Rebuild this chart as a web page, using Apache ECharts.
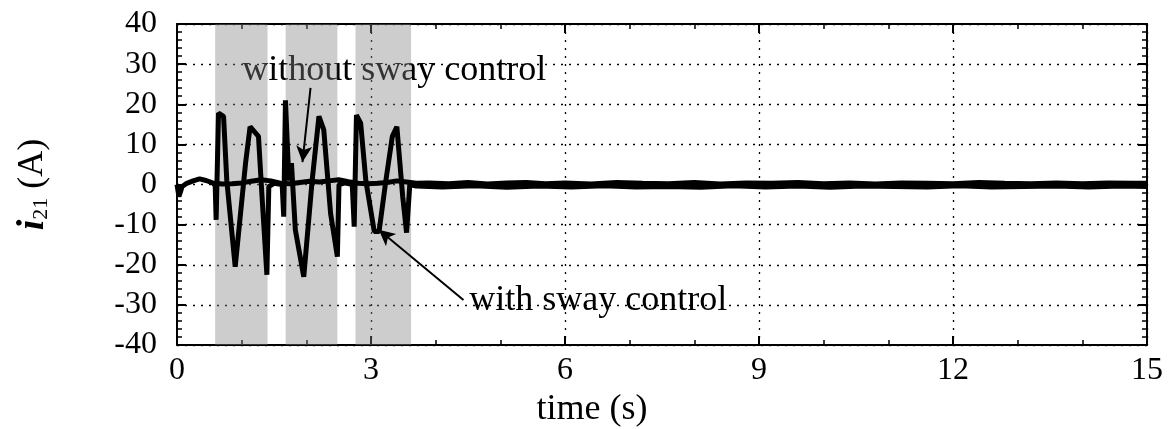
<!DOCTYPE html>
<html>
<head>
<meta charset="utf-8">
<script src="https://cdn.jsdelivr.net/npm/echarts@6/dist/echarts.min.js"></script>
<style>
  html, body { margin: 0; padding: 0; background: #fff; }
  #main { width: 1172px; height: 429px; }
</style>
</head>
<body>
<div id="main"></div>
<script>
// current i21 (A) vs time (s)
var ctrlTime = [0.55, 0.59, 0.605, 0.625, 0.642, 0.72, 0.77, 0.90, 1.06, 1.13, 1.26, 1.315, 1.39, 1.42, 1.5,
  1.626, 1.65, 1.677, 1.73, 1.77, 1.83, 1.96, 2.09, 2.195, 2.27, 2.375, 2.48, 2.505, 2.6,
  2.71, 2.74, 2.775, 2.84, 2.92, 3.05, 3.125, 3.23, 3.33, 3.40, 3.49, 3.55, 3.57, 3.6, 3.7,
  4.1, 4.6, 5.1, 5.6, 6.1, 6.6, 7.1, 7.6, 8.1, 8.6, 9.1, 9.6, 10.1, 10.6, 11.1, 11.6, 12.1, 12.6, 13.1, 13.6, 14.1, 14.6, 15];
var ctrlVal = [0.2, 0, -8.8, -8.8, 17.8, 17, 1, -20.5, 5.3, 14.4, 12, -3, -22.5, -0.5, 0.3,
  0, -8, 21, 1, 5.3, -11.3, -23, 1, 17, 13.6, -7.2, -18, 0, 0.4,
  0, -10.5, 17.3, 15.3, 1, -11.7, -11.7, 1, 12, 14.4, -3, -12, -12, 0, -0.4,
  -0.6, -0.3, -0.7, -0.4, -0.6, -0.3, -0.6, -0.5, -0.7, -0.3, -0.6, -0.4, -0.7, -0.4, -0.5, -0.6, -0.3, -0.6, -0.5, -0.4, -0.6, -0.4, -0.5];

var freeTime = [0, 0.03, 0.08, 0.15, 0.25, 0.35, 0.45, 0.55, 0.7, 0.85, 1.0, 1.15, 1.3, 1.45, 1.6, 1.75, 1.9, 2.05,
  2.2, 2.35, 2.5, 2.65, 2.8, 2.95, 3.1, 3.25, 3.4, 3.55, 3.7, 3.9, 4.2, 4.5, 4.8, 5.1, 5.4, 5.7, 6.0, 6.4, 6.8,
  7.2, 7.6, 8.0, 8.4, 8.8, 9.2, 9.6, 10.0, 10.4, 10.8, 11.2, 11.6, 12.0, 12.4, 12.8, 13.2, 13.6, 14.0, 14.4, 14.8, 15];
var freeVal = [0, -3, -0.5, 0.3, 0.9, 1.4, 1.0, 0.4, 0.1, 0.2, 0.4, 0.8, 1.2, 0.9, 0.3, 0.2, 0.5, 0.8,
  0.6, 0.9, 1.2, 0.7, 0.3, 0.2, 0.3, 0.5, 0.9, 0.6, 0.3, 0.4, 0.2, 0.5, 0.1, 0.4, 0.5, 0.2, 0.4, 0.1, 0.5,
  0.3, 0.2, 0.5, 0.1, 0.4, 0.3, 0.5, 0.2, 0.4, 0.1, 0.4, 0.3, 0.2, 0.5, 0.3, 0.2, 0.4, 0.2, 0.4, 0.3, 0.3];

// shaded intervals (s)
var shadeStart = [0.59, 1.68, 2.76];
var shadeEnd = [1.40, 2.48, 3.62];

// annotations
var noteText = ['without sway control', 'with sway control'];
var notePos = [[1.01, 28.5], [4.52, -28.8]];
var arrowFrom = [[2.065, 24.1], [4.43, -28.8]];
var arrowTo = [[1.94, 5.6], [3.12, -11.3]];

var serif = '"Liberation Serif", "DejaVu Serif", serif';

function pairs(t, v) {
  var out = [];
  for (var i = 0; i < t.length; i++) out.push([t[i], v[i]]);
  return out;
}

var chart = echarts.init(document.getElementById('main'));

function xAx(pos, showLabel) {
  return {
    type: 'value', position: pos, min: 0, max: 15, interval: 3,
    axisLine: { show: true, onZero: false, lineStyle: { color: '#000', width: 2 } },
    axisTick: { show: true, inside: true, length: 9, lineStyle: { color: '#000', width: 2 } },
    minorTick: { show: true, splitNumber: 3, length: 5, lineStyle: { color: '#000', width: 1.5 } },
    axisLabel: { show: showLabel, color: '#000', fontFamily: serif, fontSize: 32, margin: 10 },
    splitLine: { show: showLabel, lineStyle: { color: '#000', width: 1.3, type: [2, 6] } }
  };
}
function yAx(pos, showLabel) {
  return {
    type: 'value', position: pos, min: -40, max: 40, interval: 10,
    axisLine: { show: true, onZero: false, lineStyle: { color: '#000', width: 2 } },
    axisTick: { show: true, inside: true, length: 9, lineStyle: { color: '#000', width: 2 } },
    minorTick: { show: true, splitNumber: 5, length: 5, lineStyle: { color: '#000', width: 1.5 } },
    axisLabel: { show: showLabel, color: '#000', fontFamily: serif, fontSize: 32, margin: 20 },
    splitLine: { show: showLabel, lineStyle: { color: '#000', width: 1.3, type: [2, 6] } }
  };
}

var yA = yAx('left', true);
yA.name = '{a|i}{b|21}{c| (A)}';
yA.nameLocation = 'middle';
yA.nameRotate = 90;
yA.nameGap = 125;
yA.nameTextStyle = {
  color: '#000',
  rich: {
    a: { fontFamily: serif, fontSize: 38, fontStyle: 'italic', fontWeight: 'bold', color: '#000' },
    b: { fontFamily: serif, fontSize: 22, color: '#000', verticalAlign: 'bottom', padding: [14, 0, 0, 0] },
    c: { fontFamily: serif, fontSize: 36, color: '#000' }
  }
};

var shadeData = [];
for (var i = 0; i < shadeStart.length; i++) {
  shadeData.push([{ xAxis: shadeStart[i] }, { xAxis: shadeEnd[i] }]);
}
var arrowData = [];
for (var j = 0; j < arrowFrom.length; j++) {
  arrowData.push([{ coord: arrowFrom[j] }, { coord: arrowTo[j] }]);
}

chart.setOption({
  animation: false,
  grid: { left: 177, right: 25, top: 24, bottom: 84 },
  xAxis: [xAx('bottom', true), xAx('top', false)],
  yAxis: [yA, yAx('right', false)],
  series: [
    {
      name: 'with sway control', type: 'line', showSymbol: false,
      data: pairs(ctrlTime, ctrlVal),
      lineStyle: { color: '#000', width: 5 },
      markArea: { silent: true, itemStyle: { color: 'rgba(130,130,130,0.4)' }, data: shadeData }
    },
    {
      name: 'without sway control', type: 'line', showSymbol: false,
      data: pairs(freeTime, freeVal),
      lineStyle: { color: '#000', width: 5 },
      markLine: {
        silent: true, symbol: ['none', 'arrow'], symbolSize: [12, 16],
        label: { show: false },
        lineStyle: { color: '#000', width: 2, type: 'solid' },
        data: arrowData
      }
    }
  ]
});

var g = [{
  type: 'text', x: 592, y: 410,
  style: { text: 'time (s)', fill: '#000', font: '36px ' + serif, textAlign: 'center', textVerticalAlign: 'middle' }
}];
for (var k = 0; k < noteText.length; k++) {
  var p = chart.convertToPixel({ gridIndex: 0 }, notePos[k]);
  g.push({
    type: 'text', x: p[0], y: p[1],
    style: { text: noteText[k], fill: '#000', font: '36px ' + serif, textAlign: 'left', textVerticalAlign: 'middle' }
  });
}
chart.setOption({ graphic: g });
</script>
</body>
</html>
